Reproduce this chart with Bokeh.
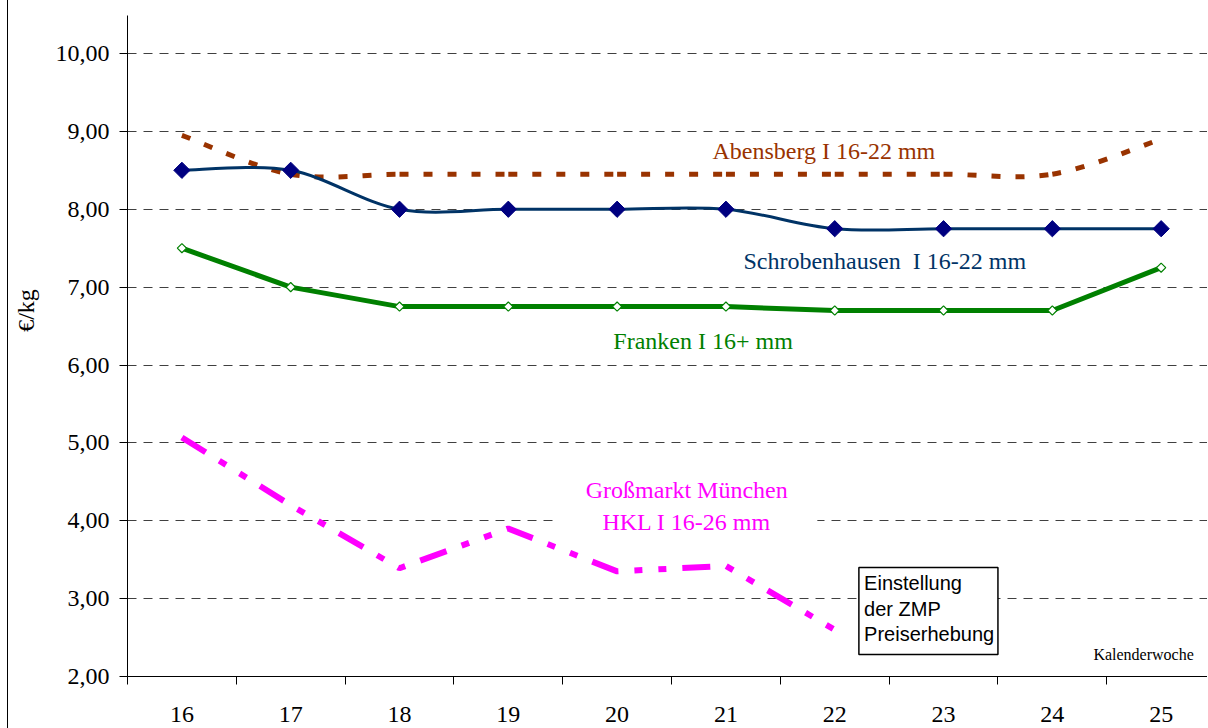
import math
from bokeh.plotting import figure
from bokeh.layouts import row
from bokeh.models import Range1d, FixedTicker, Label
from bokeh.embed import file_html
from bokeh.resources import INLINE
from bokeh.core.properties import value

# ---------------- data ----------------
weeks = ["16", "17", "18", "19", "20", "21", "22", "23", "24", "25"]
abensberg = [8.95, 8.45, 8.45, 8.45, 8.45, 8.45, 8.45, 8.45, 8.45, 8.9]
schrobenhausen = [8.5, 8.5, 8.0, 8.0, 8.0, 8.0, 7.75, 7.75, 7.75, 7.75]
franken = [7.5, 7.0, 6.75, 6.75, 6.75, 6.75, 6.7, 6.7, 6.7, 7.25]
muenchen = [5.07, 4.2, 3.39, 3.9, 3.35, 3.42, 2.6, None, None, None]
y_ticks = [2, 3, 4, 5, 6, 7, 8, 9, 10]
y_tick_labels = ["2,00", "3,00", "4,00", "5,00", "6,00", "7,00", "8,00", "9,00", "10,00"]

xs = list(range(len(weeks)))
serif = "Liberation Serif"
Y_RANGE = (2, 10.488)


def smooth(xv, yv):
    """Bezier control points (Excel-style smoothed line) derived from the data."""
    n = len(xv)
    d = dict(x0=[], y0=[], x1=[], y1=[], cx0=[], cy0=[], cx1=[], cy1=[])
    for i in range(n - 1):
        p0 = (xv[max(i - 1, 0)], yv[max(i - 1, 0)])
        p1 = (xv[i], yv[i])
        p2 = (xv[i + 1], yv[i + 1])
        p3 = (xv[min(i + 2, n - 1)], yv[min(i + 2, n - 1)])
        d["x0"].append(p1[0]); d["y0"].append(p1[1])
        d["x1"].append(p2[0]); d["y1"].append(p2[1])
        d["cx0"].append(p1[0] + (p2[0] - p0[0]) / 6.0)
        d["cy0"].append(p1[1] + (p2[1] - p0[1]) / 6.0)
        d["cx1"].append(p2[0] - (p3[0] - p1[0]) / 6.0)
        d["cy1"].append(p2[1] - (p3[1] - p1[1]) / 6.0)
    return d


# ---------- left strip: frame line (CSS border) and y-axis title ----------
side = figure(width=45, height=728, x_range=Range1d(0, 45), y_range=Range1d(*Y_RANGE),
              output_backend="svg", toolbar_location=None,
              min_border=0, min_border_left=0, min_border_right=0,
              min_border_top=0, min_border_bottom=0,
              background_fill_color="white", border_fill_color="white")
side.styles = {"margin-left": "7px", "border-left": "1px solid black"}
side.axis.visible = False
side.grid.visible = False
side.outline_line_color = None
side.text(x=[17], y=[6.70], text=["€/kg"], angle=math.pi / 2,
          text_font=value(serif), text_font_size="24px", text_color="black",
          text_align="center", text_baseline="middle")

# ---------- main chart ----------
p = figure(width=1155, height=728,
           x_range=Range1d(-0.5, 9.426), y_range=Range1d(*Y_RANGE),
           output_backend="svg", toolbar_location=None,
           min_border_left=75, min_border_top=15, min_border_right=0, min_border_bottom=52,
           background_fill_color="white", border_fill_color="white")
p.outline_line_color = None

# grid
p.xgrid.visible = False
p.ygrid.ticker = FixedTicker(ticks=y_ticks)
p.ygrid.grid_line_color = "#404040"
p.ygrid.grid_line_dash = "9 7"
p.ygrid.grid_line_width = 1

# x axis
p.xaxis.ticker = FixedTicker(ticks=xs, minor_ticks=[i - 0.5 for i in range(len(weeks) + 1)])
p.xaxis.major_label_overrides = {i: w for i, w in enumerate(weeks)}
p.xaxis.major_tick_out = 0
p.xaxis.major_tick_in = 0
p.xaxis.minor_tick_out = 8
p.xaxis.minor_tick_in = 0
p.xaxis.minor_tick_line_color = "black"
p.xaxis.axis_line_color = "black"
p.xaxis.major_label_standoff = 22
p.xaxis.major_label_text_font = serif
p.xaxis.major_label_text_font_size = "24px"
p.xaxis.major_label_text_color = "black"

# y axis
p.yaxis.ticker = FixedTicker(ticks=y_ticks, minor_ticks=[])
p.yaxis.major_label_overrides = {t: l for t, l in zip(y_ticks, y_tick_labels)}
p.yaxis.major_tick_out = 8
p.yaxis.major_tick_in = 0
p.yaxis.major_tick_line_color = "black"
p.yaxis.axis_line_color = "black"
p.yaxis.major_label_standoff = 10
p.yaxis.major_label_text_font = serif
p.yaxis.major_label_text_font_size = "24px"
p.yaxis.major_label_text_color = "black"

# white box behind München label
p.quad(left=3.43, right=5.84, top=4.64, bottom=3.81, fill_color="white", line_color=None)

# Abensberg (smoothed, dashed brown)
p.bezier(source=smooth(xs, abensberg), x0="x0", y0="y0", x1="x1", y1="y1",
         cx0="cx0", cy0="cy0", cx1="cx1", cy1="cy1",
         line_color="#993300", line_width=5, line_dash="9 15")

# Schrobenhausen (smoothed navy with diamonds)
p.bezier(source=smooth(xs, schrobenhausen), x0="x0", y0="y0", x1="x1", y1="y1",
         cx0="cx0", cy0="cy0", cx1="cx1", cy1="cy1",
         line_color="#003366", line_width=3)
p.scatter(xs, schrobenhausen, marker="square", size=11.5, angle=math.pi / 4,
          fill_color="#000080", line_color="#000080")

# Franken (green with small open diamonds)
p.line(xs, franken, line_color="#008000", line_width=5)
p.scatter(xs, franken, marker="square", size=6.5, angle=math.pi / 4,
          fill_color="white", line_color="#008000", line_width=1.2)

# Großmarkt München (magenta dash-dot-dot)
mx = [x for x, v in zip(xs, muenchen) if v is not None]
my = [v for v in muenchen if v is not None]
p.line(mx, my, line_color="#FF00FF", line_width=6, line_dash="28 16 8 16 8 16")


def add_label(x, y, text, color, size="24px", font=serif, align="center"):
    p.add_layout(Label(x=x, y=y, text=text, text_color=color, text_font=font,
                       text_font_size=size, text_align=align, text_baseline="middle"))


add_label(5.9, 8.75, "Abensberg I 16-22 mm", "#993300")
add_label(6.46, 7.34, "Schrobenhausen\u00a0 I 16-22 mm", "#003366")
add_label(4.79, 6.31, "Franken I 16+ mm", "#008000")
add_label(4.64, 4.39, "Großmarkt München", "#FF00FF")
add_label(4.64, 3.98, "HKL I 16-26 mm", "#FF00FF")
add_label(9.30, 2.283, "Kalenderwoche", "black", size="16px", align="right")

# annotation box
p.quad(left=6.222, right=7.5, top=3.40, bottom=2.283, fill_color="white",
       line_color="black", line_width=1.5)
for yy, t in zip([3.207, 2.873, 2.552], ["Einstellung", "der ZMP", "Preiserhebung"]):
    add_label(6.27, yy, t, "black", size="20px", font="Liberation Sans", align="left")

layout = row(side, p, spacing=0)
open("out.html", "w").write(file_html(layout, INLINE))
